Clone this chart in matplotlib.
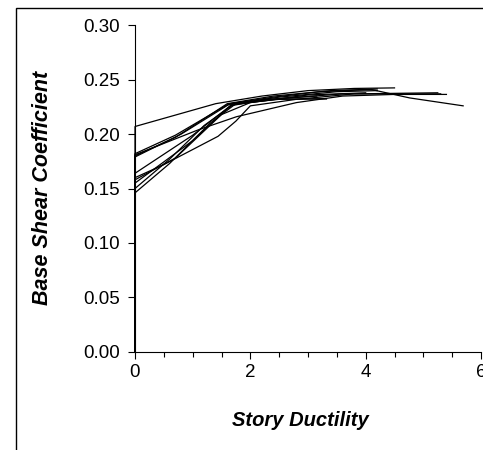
import matplotlib

matplotlib.use("Agg")
import matplotlib.pyplot as plt
from matplotlib.patches import Rectangle
from matplotlib.ticker import FormatStrFormatter, MultipleLocator

# Story ductility vs. base shear coefficient, one polyline per analysis run
ductility = [
    [0, 0, 1.4, 2.2, 3.0, 3.8, 4.5],
    [0, 0, 0.7, 1.6, 2.3, 3.32],
    [0, 0, 0.7, 1.6, 2.4, 3.4, 4.2],
    [0, 0, 1.1, 1.76, 2.16, 2.8, 3.6, 4.5, 5.4],
    [0, 0, 0.8, 1.65, 2.4, 3.2, 4.1, 4.76, 5.69],
    [0, 0, 0.5, 1.44, 1.75, 2.0, 2.8, 3.8, 5.25],
    [0, 0, 1.0, 1.7, 2.5, 3.5, 4.2],
    [0, 0, 1.0, 1.65, 2.3, 3.15],
    [0, 0, 0.6, 1.2, 1.7, 2.6, 3.6, 5.3],
    [0, 0, 0.6, 1.3, 1.75, 2.5, 3.32],
    [0, 0, 0.7, 1.5, 2.0, 3.0, 4.0],
]
shear_coeff = [
    [0, 0.207, 0.228, 0.235, 0.240, 0.242, 0.2425],
    [0, 0.182, 0.199, 0.227, 0.232, 0.2325],
    [0, 0.180, 0.197, 0.228, 0.235, 0.240, 0.2415],
    [0, 0.181, 0.204, 0.216, 0.221, 0.229, 0.235, 0.2365, 0.2365],
    [0, 0.179, 0.200, 0.228, 0.234, 0.239, 0.241, 0.2333, 0.226],
    [0, 0.160, 0.172, 0.198, 0.212, 0.226, 0.232, 0.237, 0.238],
    [0, 0.164, 0.199, 0.228, 0.234, 0.239, 0.240],
    [0, 0.155, 0.194, 0.226, 0.232, 0.235],
    [0, 0.150, 0.177, 0.208, 0.227, 0.233, 0.237, 0.237],
    [0, 0.146, 0.173, 0.210, 0.228, 0.232, 0.2325],
    [0, 0.158, 0.178, 0.218, 0.229, 0.236, 0.238],
]

plt.rcParams.update({
    "font.family": ["Liberation Sans", "DejaVu Sans"],
    "font.size": 13.5,
})

fig = plt.figure(figsize=(4.83, 4.5), dpi=100)
ax = fig.add_axes([0.2795, 0.2184, 0.7164, 0.7253])

for xs, ys in zip(ductility, shear_coeff):
    ax.plot(xs, ys, color="black", linewidth=0.9, solid_joinstyle="miter",
            clip_on=False)

ax.set_xlim(0, 6)
ax.set_ylim(0, 0.30)
ax.xaxis.set_major_locator(MultipleLocator(2))
ax.xaxis.set_minor_locator(MultipleLocator(0.5))
ax.yaxis.set_major_locator(MultipleLocator(0.05))
ax.yaxis.set_major_formatter(FormatStrFormatter("%.2f"))

ax.tick_params(which="major", direction="out", length=5, width=0.8,
               labelsize=13.5)
ax.tick_params(axis="x", which="major", pad=4)
ax.tick_params(axis="y", which="major", pad=6)
ax.tick_params(which="minor", direction="out", length=3.5, width=0.8)
ax.tick_params(axis="y", which="minor", left=False)

for side in ("top", "right"):
    ax.spines[side].set_visible(False)
for side in ("left", "bottom"):
    ax.spines[side].set_linewidth(0.8)

ax.set_xlabel("Story Ductility", fontsize=14.5, fontweight="bold",
              fontstyle="italic")
ax.set_ylabel("Base Shear Coefficient", fontsize=15.5, fontweight="bold",
              fontstyle="italic")
ax.xaxis.set_label_coords(0.477, -0.181)
ax.yaxis.set_label_coords(-0.237, 0.503)

# chart-area frame, running past the right and bottom edges
fig.patches.append(Rectangle(
    (16 / 483, -0.1), 1.2, 1 - 8 / 450 + 0.1,
    transform=fig.transFigure, fill=False, edgecolor="black",
    linewidth=1.0, zorder=0,
))

fig.savefig("out.png", dpi=100)
